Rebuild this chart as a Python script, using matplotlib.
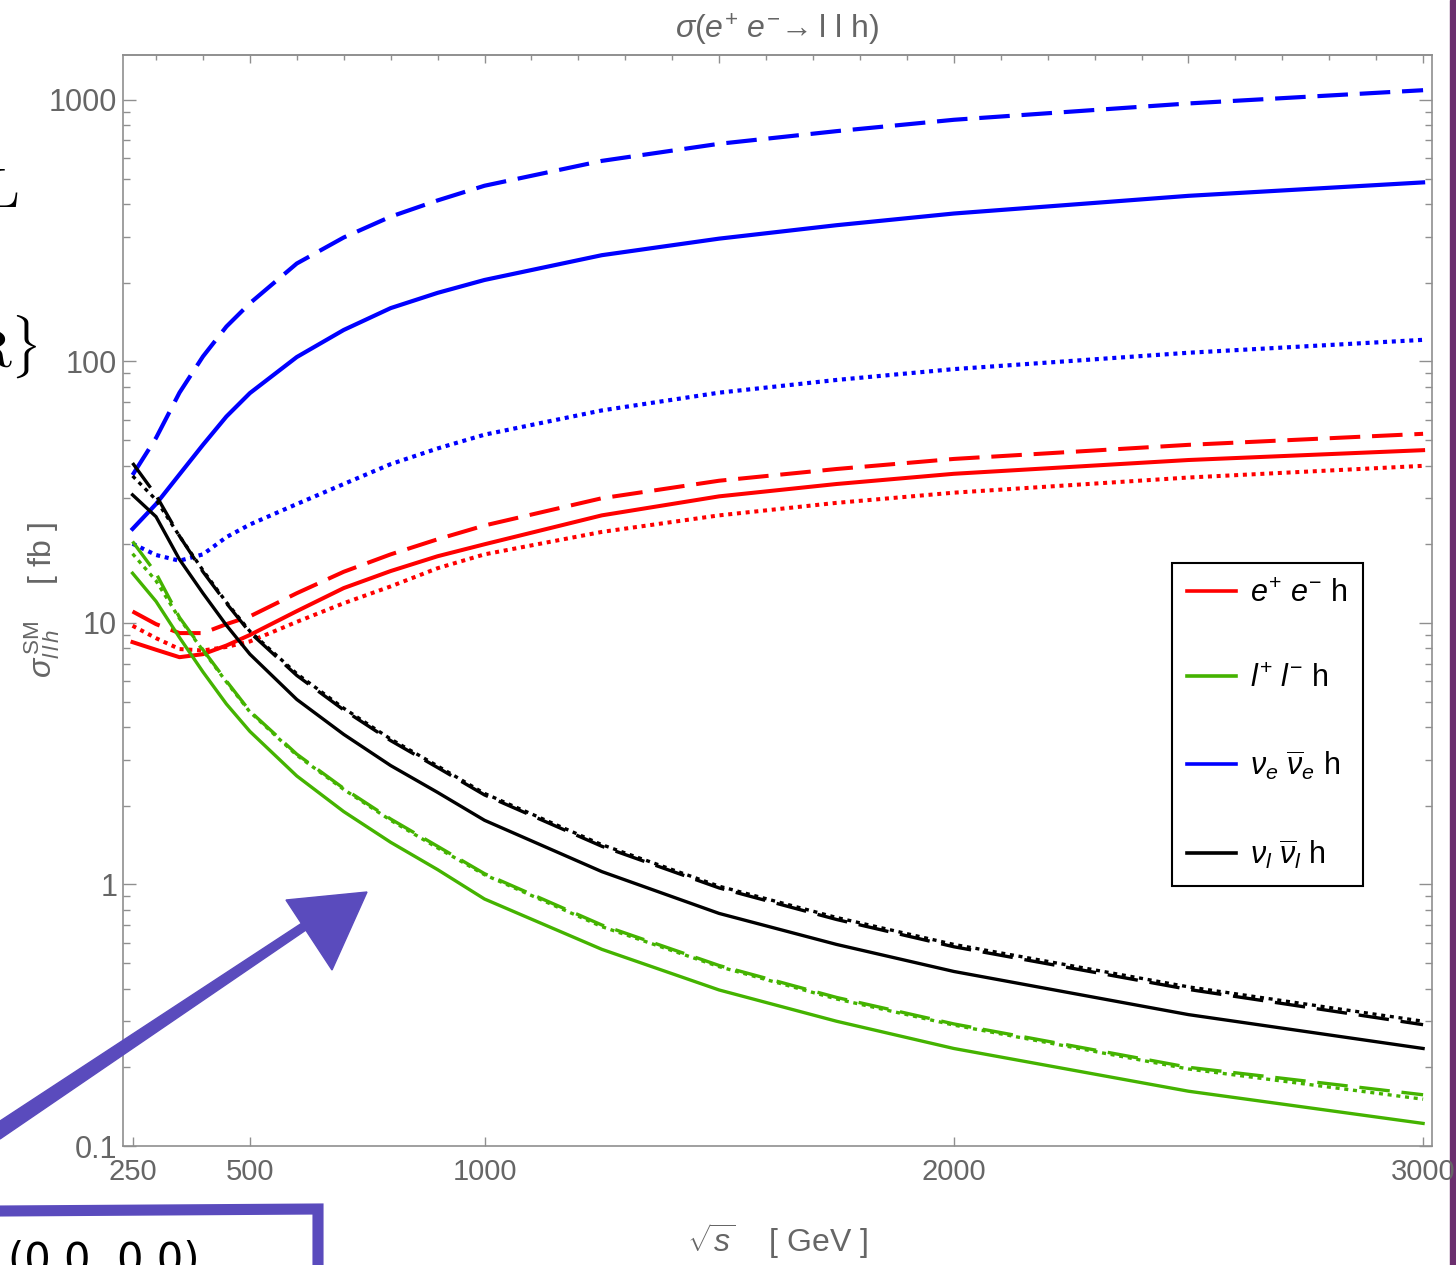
import matplotlib
matplotlib.use('Agg')
import matplotlib.pyplot as plt
from matplotlib import font_manager
from matplotlib.lines import Line2D
from matplotlib.patches import Polygon, Rectangle
from matplotlib.ticker import LogLocator, NullFormatter


def pick_font(names):
    for name in names:
        try:
            font_manager.findfont(name, fallback_to_default=False)
            return name
        except ValueError:
            pass
    return 'DejaVu Sans'


FONT = pick_font(['Liberation Sans Narrow', 'Liberation Sans', 'Roboto'])
plt.rcParams['font.family'] = [FONT, 'DejaVu Sans']
plt.rcParams['mathtext.fontset'] = 'custom'
plt.rcParams['mathtext.rm'] = FONT
plt.rcParams['mathtext.it'] = FONT + ':italic'
plt.rcParams['mathtext.bf'] = FONT + ':bold'
plt.rcParams['lines.scale_dashes'] = False

# sqrt(s) in GeV
sqrt_s = [250, 300, 350, 400, 450, 500, 600, 700, 800, 900, 1000,
          1250, 1500, 1750, 2000, 2500, 3000]

# cross sections in fb, three curves per channel (solid / dashed / dotted)
ee_solid = [8.45, 7.9, 7.4, 7.6, 8.2, 9.0, 11.1, 13.6, 15.8, 18.0, 20.0,
            25.8, 30.5, 34.0, 37.2, 42.0, 45.8]
ee_dashed = [11.07, 9.9, 9.15, 9.15, 9.9, 10.6, 13.0, 15.7, 18.3, 20.9, 23.6,
             30.0, 35.0, 38.8, 42.4, 48.0, 52.9]
ee_dotted = [9.76, 8.75, 7.95, 7.85, 8.1, 8.5, 10.1, 11.9, 13.8, 16.2, 18.3,
             22.3, 25.8, 28.8, 31.5, 36.0, 39.9]

ll_solid = [15.5, 12.1, 8.8, 6.5, 4.9, 3.85, 2.6, 1.9, 1.45, 1.14, 0.88,
            0.565, 0.395, 0.30, 0.236, 0.162, 0.122]
ll_dashed = [20.5, 15.5, 10.5, 7.9, 6.0, 4.6, 3.15, 2.33, 1.78, 1.4, 1.1,
             0.70, 0.49, 0.37, 0.293, 0.20, 0.157]
ll_dotted = [18.4, 14.5, 10.4, 7.85, 5.95, 4.57, 3.12, 2.31, 1.76, 1.38, 1.09,
             0.69, 0.485, 0.365, 0.29, 0.197, 0.151]

nue_solid = [22.9, 28.5, 37, 48, 61.6, 75.7, 104, 132, 160, 183, 205,
             255, 295, 332, 368, 430, 484]
nue_dashed = [36.8, 51, 76, 104.5, 136, 167, 237, 298, 358, 413, 470,
              585, 680, 760, 840, 970, 1090]
nue_dotted = [20.1, 18.2, 17.3, 18.3, 21.3, 23.8, 28.5, 34, 40.5, 46.5, 52.5,
              65, 76, 85, 93.5, 108, 121]

nul_solid = [30.9, 25.5, 17.5, 13.0, 9.8, 7.6, 5.1, 3.75, 2.85, 2.25, 1.76,
             1.12, 0.775, 0.59, 0.465, 0.318, 0.236]
nul_dashed = [40.9, 30.8, 21.5, 15.7, 11.9, 9.2, 6.3, 4.65, 3.55, 2.8, 2.2,
              1.4, 0.97, 0.735, 0.578, 0.397, 0.291]
nul_dotted = [36.5, 29.6, 21.5, 15.9, 12.0, 9.3, 6.4, 4.72, 3.6, 2.84, 2.23,
              1.42, 0.985, 0.748, 0.59, 0.406, 0.30]

labels = [r'$e^{+}\ e^{-}$ h', r'$l^{+}\ l^{-}$ h',
          r'$\nu_e\ \overline{\nu}_e$ h', r'$\nu_l\ \overline{\nu}_l$ h']

xtick_vals = [250, 500, 1000, 2000, 3000]
ytick_vals = [0.1, 1, 10, 100, 1000]
ytick_text = ['0.1', '1', '10', '100', '1000']

RED, GREEN, BLUE, BLACK = '#ff0000', '#44b300', '#0000ff', '#000000'
GRAY = '#666666'
AXIS = '#8f8f8f'
PURPLE = '#5a4bbd'

W, H = 1456, 1265


def fx(px):
    return px / W


def fy(py):
    return 1 - py / H


fig = plt.figure(figsize=(W / 100, H / 100), dpi=100)
ax = fig.add_axes([fx(122.7), fy(1146), (1432 - 122.7) / W, (1146 - 54.7) / H])

dash = (0, (22, 8.5))
dot = (0, (2.9, 3.4))

series = [
    (nue_solid, nue_dashed, nue_dotted, BLUE, 3.0),
    (ee_solid, ee_dashed, ee_dotted, RED, 2.9),
    (nul_solid, nul_dashed, nul_dotted, BLACK, 2.4),
    (ll_solid, ll_dashed, ll_dotted, GREEN, 2.4),
]
for solid, dashed, dotted, color, lw in series:
    ax.plot(sqrt_s, solid, color=color, lw=lw)
    ax.plot(sqrt_s, dashed, color=color, lw=lw, ls=dash, dash_capstyle='butt')
    ax.plot(sqrt_s, dotted, color=color, lw=lw, ls=dot, dash_capstyle='butt')

ax.set_yscale('log')
ax.set_xlim(229, 3019)
ax.set_ylim(0.1, 1490)

for sp in ax.spines.values():
    sp.set_color(AXIS)
    sp.set_linewidth(1.2)

ax.set_xticks(xtick_vals)
ax.set_xticklabels([str(v) for v in xtick_vals])
ax.tick_params(axis='x', direction='in', length=6.5, width=1, color=AXIS,
               labelsize=21, labelcolor=GRAY, pad=9)

top = ax.secondary_xaxis('top')
top.set_xticks(range(500, 3001, 500))
top.set_xticks([v for v in range(300, 3001, 100) if v % 500], minor=True)
top.tick_params(which='major', direction='in', length=6, width=1, color=AXIS,
                labeltop=False)
top.tick_params(which='minor', direction='in', length=3.5, width=1, color=AXIS)
top.spines['top'].set_color(AXIS)
top.spines['top'].set_linewidth(1.2)

ax.set_yticks(ytick_vals)
ax.set_yticklabels(ytick_text)
ax.yaxis.set_minor_locator(LogLocator(base=10, subs=range(2, 10), numticks=20))
ax.yaxis.set_minor_formatter(NullFormatter())
ax.tick_params(axis='y', which='both', direction='in', left=True, right=True,
               color=AXIS, width=1, labelsize=22, labelcolor=GRAY, pad=4)
ax.tick_params(axis='y', which='major', length=9.4)
ax.tick_params(axis='y', which='minor', length=5)

fig.text(fx(777), fy(30), r'$\sigma(e^{+}\ e^{-}\!\rightarrow\mathrm{l\ l\ h})$',
         ha='center', va='center', fontsize=23, color=GRAY)
fig.text(fx(42), fy(600), r'$\sigma^{\,\mathrm{SM}}_{l\,l\,h}$    [ fb ]',
         ha='center', va='center', rotation=90, fontsize=23, color=GRAY)
fig.text(fx(777), fy(1241), r'$\sqrt{s}$    [ GeV ]',
         ha='center', va='center', fontsize=23, color=GRAY)

handles = [Line2D([], [], color=c, lw=2.6) for c in (RED, GREEN, BLUE, BLACK)]
leg = ax.legend(handles, labels, loc='center',
                bbox_to_anchor=(fx(1267.4), fy(724.7)),
                bbox_transform=fig.transFigure,
                fontsize=22, frameon=True, fancybox=False, framealpha=1,
                edgecolor='black', handlelength=1.6, handletextpad=0.45,
                labelspacing=1.8, borderpad=0.5)
leg.get_frame().set_linewidth(1.5)

# slide decorations around the plot
fig.patches.append(Rectangle((fx(1450), 0), 6 / W, 1, transform=fig.transFigure,
                             color='#6b2f6e', zorder=-1))
fig.text(fx(18), fy(193), r'$\mathrm{L}$', ha='right', va='center',
         fontsize=40, math_fontfamily='cm')
fig.text(fx(38), fy(347), r'$\mathrm{R}\}$', ha='right', va='center',
         fontsize=38, math_fontfamily='cm')

shaft = [(0, 1121), (302, 923), (306, 930), (0, 1139)]
head = [(286, 900), (367, 892), (332, 970)]
for pts in (shaft, head):
    fig.patches.append(Polygon([(fx(x), fy(y)) for x, y in pts], closed=True,
                               transform=fig.transFigure, color=PURPLE, zorder=6))
fig.lines.append(Line2D([fx(0), fx(318), fx(318)], [fy(1211), fy(1209), fy(1265)],
                        transform=fig.transFigure, color=PURPLE, lw=8,
                        solid_joinstyle='miter'))
fig.text(fx(8), fy(1273), '(0.0, 0.0)', ha='left', va='baseline',
         fontsize=30, family='DejaVu Sans', color='black')

fig.savefig('out.png', dpi=100)
plt.close(fig)
